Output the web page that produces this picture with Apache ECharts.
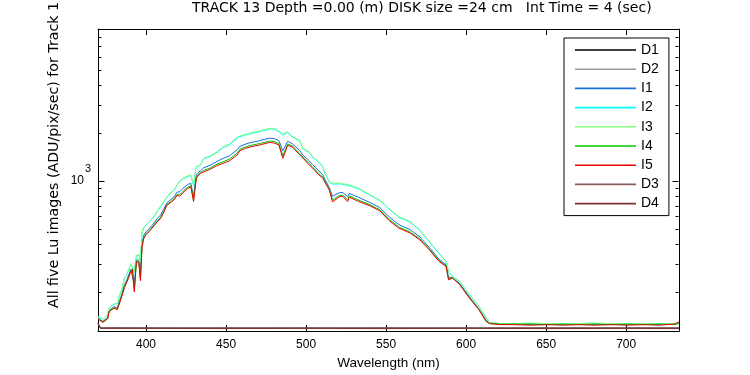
<!DOCTYPE html>
<html>
<head>
<meta charset="utf-8">
<script src="https://cdn.jsdelivr.net/npm/echarts@6/dist/echarts.min.js"></script>
<style>
html,body{margin:0;padding:0;background:#fff;}
#chart{width:750px;height:375px;}
</style>
</head>
<body>
<div id="chart"></div>
<script>
// ---- data ----
const titleText = 'TRACK 13 Depth =0.00 (m) DISK size =24 cm   Int Time = 4 (sec)';
const yLabelText = 'All five Lu images (ADU/pix/sec) for Track 1';
const xLabelText = 'Wavelength (nm)';
const X_MIN = 370, X_MAX = 733;
const Y_MIN = 114, Y_MAX = 9000;
const xTickValues = [400, 450, 500, 550, 600, 650, 700];
const yMajorTicks = [1000];
const yMinorTicks = [200, 300, 400, 500, 600, 700, 800, 900, 2000, 3000, 4000, 5000, 6000, 7000, 8000, 9000];

const wavelengths = [370, 371, 373, 376, 377, 380, 382, 383, 385, 386.5, 388, 390.5, 391.5, 392.7, 394, 395.5, 396.5, 397.5, 398.5, 400,
  402, 405, 407, 409, 411, 413, 415, 417.5, 419.5, 421, 423, 426, 428, 429.7, 431.3, 432, 434, 436, 440, 444.5,
  448, 452, 457, 458.5, 462, 465, 471, 477, 480, 483, 485.5, 488.5, 491.5, 496, 498, 502, 504, 508, 510.5, 511.5,
  514.5, 516.5, 521, 523, 526, 527, 533, 540, 546, 552, 558, 565, 571, 577, 583, 587.5, 589, 591.5, 596, 602,
  608, 612.5, 614.5, 621, 630, 640, 650, 660, 670, 680, 690, 700, 710, 720, 730, 733];

const I1 = [137, 135, 131, 139, 153, 162, 159, 171, 196, 223, 238, 279, 287, 220, 320, 317, 257, 404, 455, 479,
  502, 544, 580, 609, 662, 727, 757, 794, 851, 854, 897, 948, 966, 797, 1075, 1112, 1159, 1209, 1253, 1328,
  1383, 1435, 1569, 1647, 1700, 1737, 1788, 1854, 1845, 1788, 1547, 1773, 1709, 1554, 1454, 1335, 1267, 1155, 1093, 1034,
  910, 801, 845, 844, 798, 834, 787, 731, 680, 593, 531, 494, 446, 382, 323, 297, 248, 247, 226, 187,
  157, 133, 128, 126, 126, 125, 126, 125, 126, 125, 126, 125, 126, 125, 126, 128];
const I2 = [140, 138, 135, 145, 159, 168, 169, 184, 209, 244, 256, 300, 308, 265, 338, 343, 307, 465, 506, 526,
  552, 593, 645, 684, 736, 786, 831, 872, 943, 989, 1029, 1065, 1081, 933, 1217, 1235, 1253, 1374, 1421, 1512,
  1615, 1680, 1856, 1894, 1940, 1980, 2038, 2118, 2117, 2039, 1937, 2018, 1881, 1787, 1592, 1512, 1408, 1308, 1219, 1136,
  984, 954, 958, 951, 938, 936, 891, 811, 754, 662, 592, 551, 489, 413, 350, 311, 268, 251, 233, 193,
  163, 138, 129, 127, 126, 127, 126, 127, 126, 127, 126, 127, 126, 127, 126, 127];
const I3 = [140, 138, 135, 145, 159, 169, 170, 185, 210, 246, 257, 302, 310, 269, 340, 345, 311, 470, 510, 530,
  556, 597, 650, 690, 742, 790, 837, 878, 950, 1000, 1040, 1075, 1090, 944, 1229, 1245, 1260, 1388, 1435, 1527,
  1634, 1700, 1880, 1915, 1960, 2000, 2059, 2140, 2140, 2060, 1971, 2038, 1895, 1807, 1603, 1527, 1420, 1321, 1229, 1144,
  990, 967, 967, 960, 950, 944, 900, 817, 760, 668, 597, 556, 493, 416, 352, 312, 270, 251, 234, 193,
  163, 138, 129, 127, 127, 128, 127, 126, 127, 128, 127, 126, 127, 126, 127, 128];
const I4 = [136, 133, 130, 137, 152, 160, 156, 167, 192, 216, 233, 272, 280, 207, 314, 310, 243, 388, 440, 466,
  488, 529, 562, 588, 640, 710, 735, 771, 824, 818, 859, 913, 933, 760, 1035, 1077, 1131, 1162, 1204, 1276,
  1318, 1367, 1493, 1576, 1632, 1667, 1716, 1779, 1768, 1716, 1437, 1703, 1658, 1487, 1414, 1284, 1226, 1111, 1057, 1004,
  889, 758, 812, 812, 761, 804, 756, 708, 659, 572, 513, 478, 433, 373, 316, 292, 242, 246, 224, 185,
  156, 132, 127, 126, 126, 126, 125, 126, 125, 126, 125, 126, 125, 126, 125, 127];
const I5 = [136, 133, 129, 136, 151, 159, 155, 165, 190, 213, 231, 269, 277, 201, 311, 306, 236, 380, 433, 459,
  481, 522, 553, 578, 630, 702, 725, 760, 811, 800, 841, 897, 917, 742, 1015, 1060, 1118, 1139, 1181, 1251,
  1287, 1335, 1455, 1542, 1599, 1634, 1682, 1743, 1731, 1682, 1388, 1670, 1634, 1455, 1394, 1260, 1206, 1090, 1040, 990,
  878, 738, 797, 797, 742, 790, 742, 697, 649, 562, 505, 470, 427, 369, 312, 290, 239, 245, 223, 184,
  155, 131, 127, 125, 125, 124, 125, 124, 125, 124, 125, 124, 125, 124, 126, 130];

const darkWavelengths = [370, 371.5, 400, 450, 500, 550, 600, 650, 700, 733];
const D1 = [128, 119, 119, 119, 119, 119, 119, 119, 119, 119];
const D2 = [127, 118, 118, 118.5, 118, 118, 118.5, 118, 118, 118];
const D3 = [128, 119.5, 119, 119.5, 119, 119.5, 119, 119.5, 119, 119.5];
const D4 = [128, 118.5, 118.5, 118, 118.5, 118, 118.5, 118, 118.5, 118];

const seriesNames = ['D1', 'D2', 'I1', 'I2', 'I3', 'I4', 'I5', 'D3', 'D4'];
const seriesColors = ['#000000', '#999999', '#1a70dc', '#00ffff', '#80ff80', '#00c800', '#ee0000', '#8a5c5c', '#7a3232'];
const seriesValues = [D1, D2, I1, I2, I3, I4, I5, D3, D4];
const seriesX = [darkWavelengths, darkWavelengths, wavelengths, wavelengths, wavelengths, wavelengths, wavelengths, darkWavelengths, darkWavelengths];

// ---- chart ----
const chart = echarts.init(document.getElementById('chart'), null, {renderer: 'canvas'});
const FONT = 'Liberation Sans, Arial, sans-serif';

const lineSeries = seriesNames.map((name, k) => ({
  name: name,
  type: 'line',
  xAxisIndex: 0,
  yAxisIndex: 0,
  showSymbol: false,
  symbol: 'none',
  animation: false,
  color: seriesColors[k],
  itemStyle: {color: seriesColors[k]},
  lineStyle: {width: 1, color: seriesColors[k]},
  data: seriesX[k].map((w, i) => [w, seriesValues[k][i]])
}));

const tickSeries = {
  type: 'custom',
  xAxisIndex: 0,
  yAxisIndex: 0,
  silent: true,
  clip: false,
  animation: false,
  data: yMinorTicks.map(v => [X_MIN, v, 0]).concat(yMajorTicks.map(v => [X_MIN, v, 1])),
  renderItem: function (params, api) {
    const v = api.value(1);
    const len = api.value(2) ? 6 : 3;
    const l = api.coord([X_MIN, v]);
    const r = api.coord([X_MAX, v]);
    const y = Math.round(l[1]) + 0.5;
    const xl = Math.round(l[0]) + 0.5;
    const xr = Math.round(r[0]) - 0.5;
    return {
      type: 'group',
      children: [
        {type: 'line', shape: {x1: xl, y1: y, x2: xl + len, y2: y}, style: {stroke: '#000', lineWidth: 1}},
        {type: 'line', shape: {x1: xr, y1: y, x2: xr - len, y2: y}, style: {stroke: '#000', lineWidth: 1}}
      ]
    };
  }
};

const option = {
  backgroundColor: '#ffffff',
  animation: false,
  title: {
    text: titleText,
    left: 192,
    top: 1,
    padding: 0,
    textStyle: {fontFamily: 'DejaVu Sans', fontSize: 14, fontWeight: 'normal', color: '#000'}
  },
  legend: {
    data: seriesNames.map((n, k) => ({name: n, icon: 'rect', itemStyle: {color: seriesColors[k]}})),
    orient: 'vertical',
    left: 564,
    top: 38,
    padding: [5, 10, 5, 11],
    itemWidth: 61,
    itemHeight: 1.6,
    itemGap: 5.2,
    borderColor: '#000',
    borderWidth: 1,
    backgroundColor: '#fff',
    borderRadius: 0,
    selectedMode: false,
    textStyle: {fontFamily: FONT, fontSize: 14, color: '#000', lineHeight: 14}
  },
  grid: {left: 98, right: 71, top: 29, bottom: 44, containLabel: false},
  xAxis: [
    {
      type: 'value', min: X_MIN, max: X_MAX, position: 'bottom',
      name: xLabelText, nameLocation: 'middle', nameGap: 23,
      nameTextStyle: {fontFamily: FONT, fontSize: 13.5, color: '#000'},
      axisLine: {show: true, lineStyle: {color: '#000', width: 1}},
      axisTick: {show: true, inside: true, length: 6, customValues: xTickValues, lineStyle: {color: '#000'}},
      axisLabel: {show: true, customValues: xTickValues, margin: 8, fontFamily: FONT, fontSize: 12, color: '#000'},
      splitLine: {show: false}
    },
    {
      type: 'value', min: X_MIN, max: X_MAX, position: 'top',
      axisLine: {show: true, lineStyle: {color: '#000', width: 1}},
      axisTick: {show: true, inside: true, length: 6, customValues: xTickValues, lineStyle: {color: '#000'}},
      axisLabel: {show: false},
      splitLine: {show: false}
    }
  ],
  yAxis: [
    {
      type: 'log', logBase: 10, min: Y_MIN, max: Y_MAX, position: 'left',
      axisLine: {show: true, lineStyle: {color: '#000', width: 1}},
      axisTick: {show: false},
      axisLabel: {
        show: true, margin: 7, showMinLabel: false, showMaxLabel: false,
        padding: [0, 0, 12, 0],
        formatter: function (v) { return Math.abs(v - 1000) < 1e-6 ? '{s|3}\n{b|10}' : ''; },
        rich: {
          s: {fontFamily: FONT, fontSize: 11, lineHeight: 12, color: '#000', align: 'right'},
          b: {fontFamily: FONT, fontSize: 12, lineHeight: 12, color: '#000', padding: [0, 7, 0, 0], align: 'right'}
        }
      },
      splitLine: {show: false}
    },
    {
      type: 'log', logBase: 10, min: Y_MIN, max: Y_MAX, position: 'right',
      axisLine: {show: true, lineStyle: {color: '#000', width: 1}},
      axisTick: {show: false},
      axisLabel: {show: false},
      splitLine: {show: false}
    }
  ],
  graphic: [
    {
      type: 'text',
      x: 54,
      y: 155,
      rotation: Math.PI / 2,
      style: {text: yLabelText, fontFamily: 'DejaVu Sans', fontSize: 14.2, fill: '#000', align: 'center', verticalAlign: 'middle'}
    }
  ],
  series: lineSeries.concat([tickSeries])
};

chart.setOption(option);
</script>
</body>
</html>
